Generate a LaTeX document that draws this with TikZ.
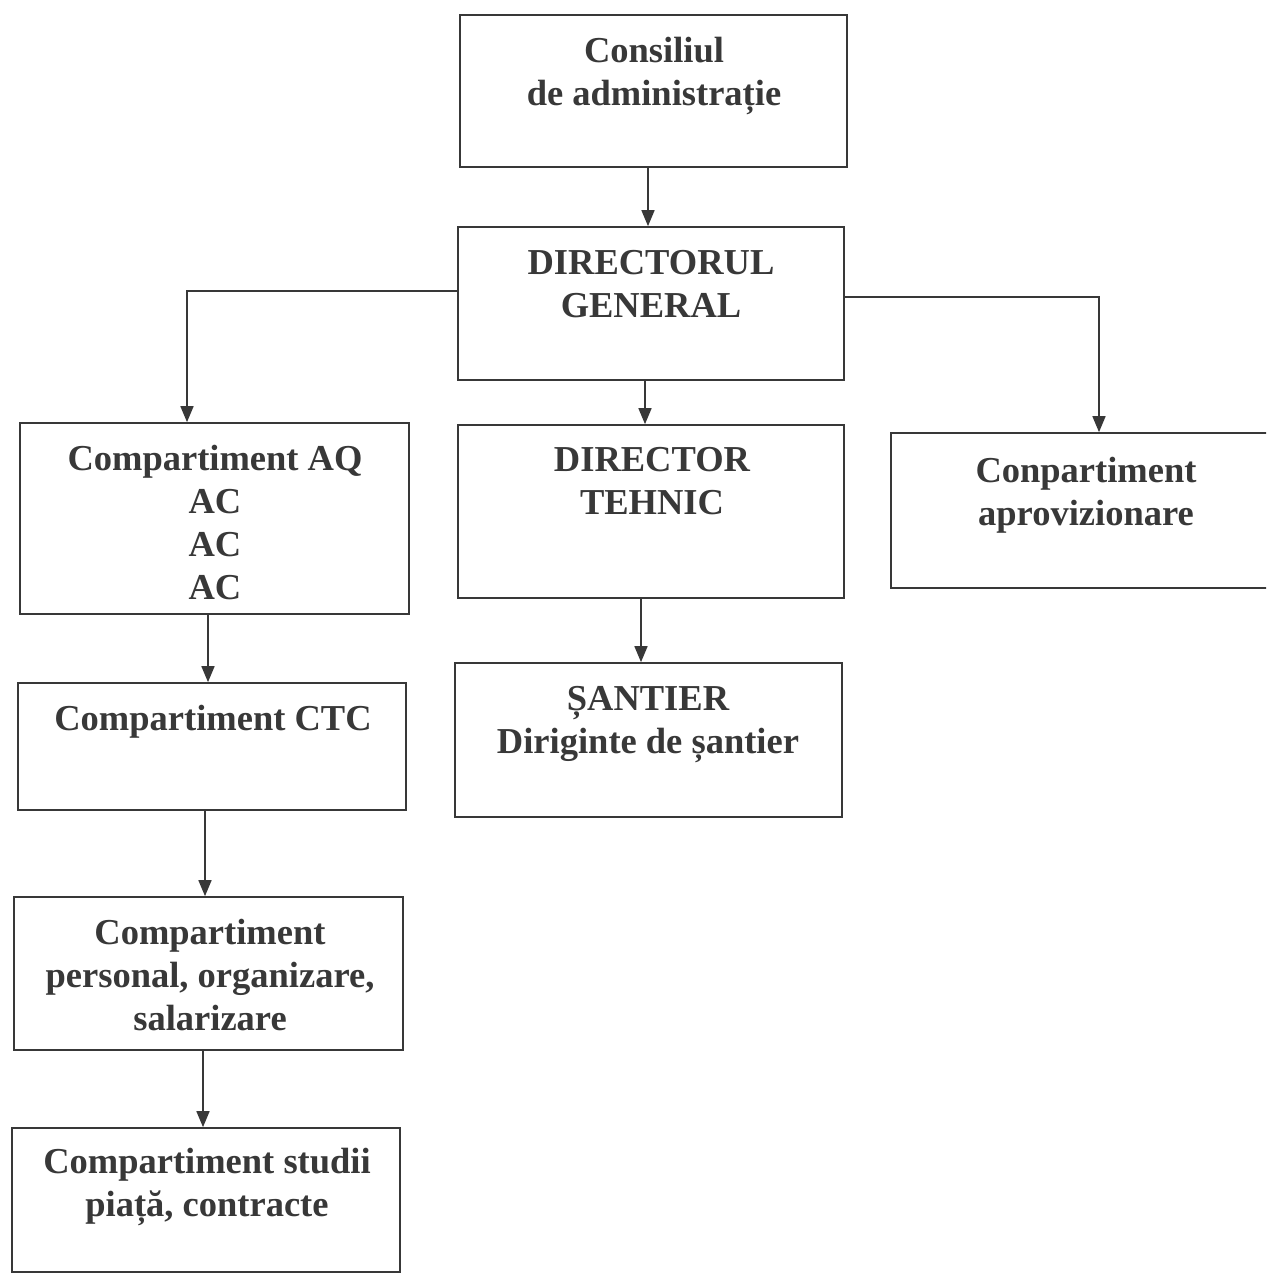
\documentclass[tikz,border=0pt]{standalone}
\usepackage{fontspec}
\setmainfont{Liberation Serif}
\usetikzlibrary{arrows.meta}
\definecolor{ink}{gray}{0.22}
\tikzset{
  x=1pt, y=-1pt,
  orgbox/.style={draw=ink, line width=1.7pt, rectangle, inner sep=0pt},
  lbl/.style={text=ink, inner sep=0pt, anchor=north, align=center,
    font=\fontsize{36.5}{43}\selectfont\bfseries},
  arr/.style={draw=ink, line width=1.6pt, -{Triangle[length=16pt,width=13pt]}}
}
\begin{document}
\begin{tikzpicture}
\clip (0,0) rectangle (1266,1274);
\fill[white] (0,0) rectangle (1266,1274);

\node[orgbox, minimum width=387pt, minimum height=152pt] (cons) at (653.5,91) {};
\node[lbl] (consT) at (654,37) {Consiliul\\de administrație};

\node[orgbox, minimum width=386pt, minimum height=153pt] (dg) at (651,303.5) {};
\node[lbl] (dgT) at (651,250) {DIRECTORUL\\GENERAL};

\node[orgbox, minimum width=389pt, minimum height=191pt] (aq) at (214.5,518.5) {};
\node[lbl] (aqT) at (215,445) {Compartiment AQ\\AC\\AC\\AC};

\node[orgbox, minimum width=386pt, minimum height=173pt] (dt) at (651,511.5) {};
\node[lbl] (dtT) at (652,447) {DIRECTOR\\TEHNIC};

\node[orgbox, minimum width=384pt, minimum height=155pt] (apr) at (1083,510.5) {};
\node[lbl] (aprT) at (1086,457) {Conpartiment\\aprovizionare};

\node[orgbox, minimum width=388pt, minimum height=127pt] (ctc) at (212,746.5) {};
\node[lbl] (ctcT) at (213,705) {Compartiment CTC};

\node[orgbox, minimum width=387pt, minimum height=154pt] (san) at (648.5,740) {};
\node[lbl] (sanT) at (648,686) {ȘANTIER\\Diriginte de șantier};

\node[orgbox, minimum width=389pt, minimum height=153pt] (per) at (208.5,973.5) {};
\node[lbl] (perT) at (210,919) {Compartiment\\personal, organizare,\\salarizare};

\node[orgbox, minimum width=388pt, minimum height=144pt] (stu) at (206,1200) {};
\node[lbl] (stuT) at (207,1148) {Compartiment studii\\piață, contracte};

% connectors
\draw[arr] ([xshift=-5.5pt]cons.south) -- ([xshift=-5.5pt]cons.south |- dg.north);
\draw[arr] ([yshift=12.5pt]dg.west) -| ([xshift=-27.5pt]aq.north);
\draw[arr] ([yshift=6.5pt]dg.east) -| ([xshift=16pt]apr.north);
\draw[arr] ([xshift=-6pt]dg.south) -- ([xshift=-6pt]dg.south |- dt.north);
\draw[arr] ([xshift=-10pt]dt.south) -- ([xshift=-10pt]dt.south |- san.north);
\draw[arr] ([xshift=-6.5pt]aq.south) -- ([xshift=-6.5pt]aq.south |- ctc.north);
\draw[arr] ([xshift=-7pt]ctc.south) -- ([xshift=-7pt]ctc.south |- per.north);
\draw[arr] ([xshift=-5.5pt]per.south) -- ([xshift=-5.5pt]per.south |- stu.north);
\end{tikzpicture}
\end{document}
